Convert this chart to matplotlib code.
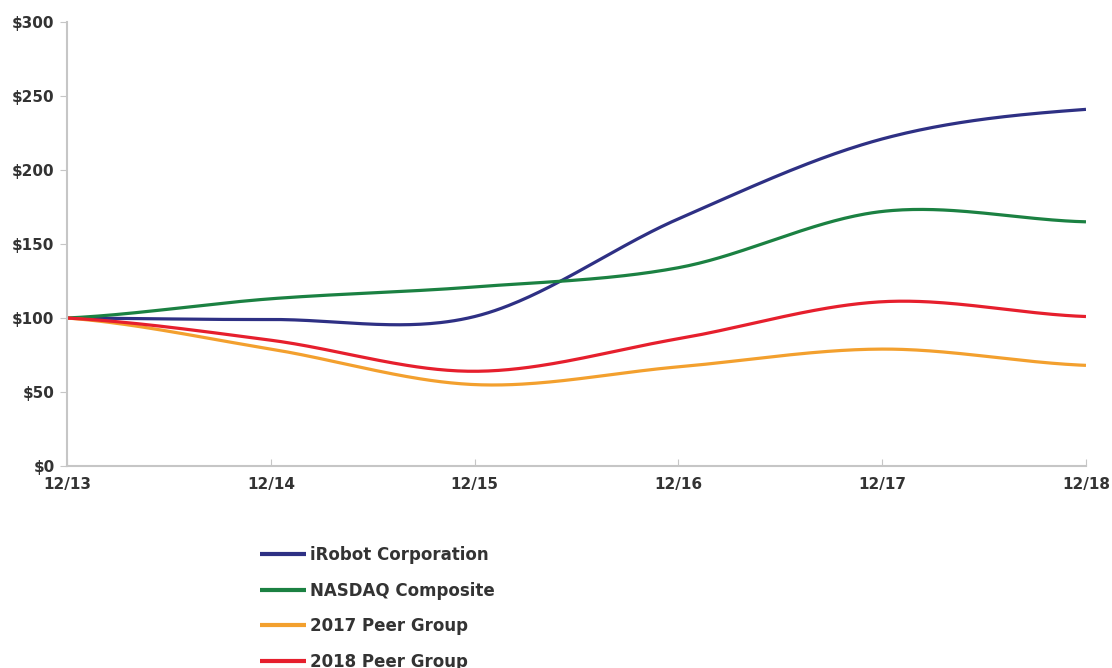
import numpy as np
import matplotlib
matplotlib.use("Agg")
import matplotlib.pyplot as plt

years = ["12/13", "12/14", "12/15", "12/16", "12/17", "12/18"]
irobot = [100, 99, 101, 167, 221, 241]
nasdaq = [100, 113, 121, 134, 172, 165]
peer_2017 = [100, 79, 55, 67, 79, 68]
peer_2018 = [100, 85, 64, 86, 111, 101]

series = [
    ("iRobot Corporation", irobot, "#2e3084"),
    ("NASDAQ Composite", nasdaq, "#1b8142"),
    ("2017 Peer Group", peer_2017, "#f3a02e"),
    ("2018 Peer Group", peer_2018, "#e61f2d"),
]


def smooth(vals, n=60):
    # catmull-rom through the yearly points (like a smoothed line in excel)
    v = np.asarray(vals, dtype=float)
    p = np.concatenate([[v[0]], v, [v[-1]]])
    xs, ys = [], []
    for i in range(len(v) - 1):
        p0, p1, p2, p3 = p[i], p[i + 1], p[i + 2], p[i + 3]
        m1 = (p2 - p0) / 2
        m2 = (p3 - p1) / 2
        t = np.linspace(0, 1, n, endpoint=False)
        h00 = 2 * t**3 - 3 * t**2 + 1
        h10 = t**3 - 2 * t**2 + t
        h01 = -2 * t**3 + 3 * t**2
        h11 = t**3 - t**2
        xs.append(i + t)
        ys.append(h00 * p1 + h10 * m1 + h01 * p2 + h11 * m2)
    xs.append([len(v) - 1])
    ys.append([v[-1]])
    return np.concatenate(xs), np.concatenate(ys)


fig = plt.figure(figsize=(11.12, 6.68), dpi=100)
ax = fig.add_axes([0.0603, 0.3024, 0.9163, 0.6646])

for name, vals, col in series:
    x, y = smooth(vals)
    ax.plot(x, y, color=col, lw=2.3, label=name, solid_capstyle="butt")

ax.set_xlim(0, len(years) - 1)
ax.set_ylim(0, 300)
ax.set_xticks(range(len(years)))
ax.set_xticklabels(years)
ax.set_yticks(range(0, 301, 50))
ax.set_yticklabels(["$%d" % v for v in range(0, 301, 50)])

for s in ["top", "right"]:
    ax.spines[s].set_visible(False)
for s in ["left", "bottom"]:
    ax.spines[s].set_color("#c6c6c6")
    ax.spines[s].set_linewidth(1.5)

ax.tick_params(axis="x", direction="in", length=5, color="#c6c6c6", pad=8,
               labelsize=11, labelcolor="#333333")
ax.tick_params(axis="y", direction="out", length=5, color="#c6c6c6", pad=4,
               labelsize=11, labelcolor="#333333")
for lab in ax.get_xticklabels() + ax.get_yticklabels():
    lab.set_fontweight("bold")

leg = fig.legend(loc="upper left", bbox_to_anchor=(0.226, 0.195),
                 frameon=False, handlelength=2.8, handletextpad=0.25,
                 labelspacing=1.05, borderpad=0,
                 prop={"weight": "bold", "size": 12})
for t in leg.get_texts():
    t.set_color("#333333")
for h in leg.get_lines():
    h.set_linewidth(3)

fig.savefig("out.png", dpi=100)
